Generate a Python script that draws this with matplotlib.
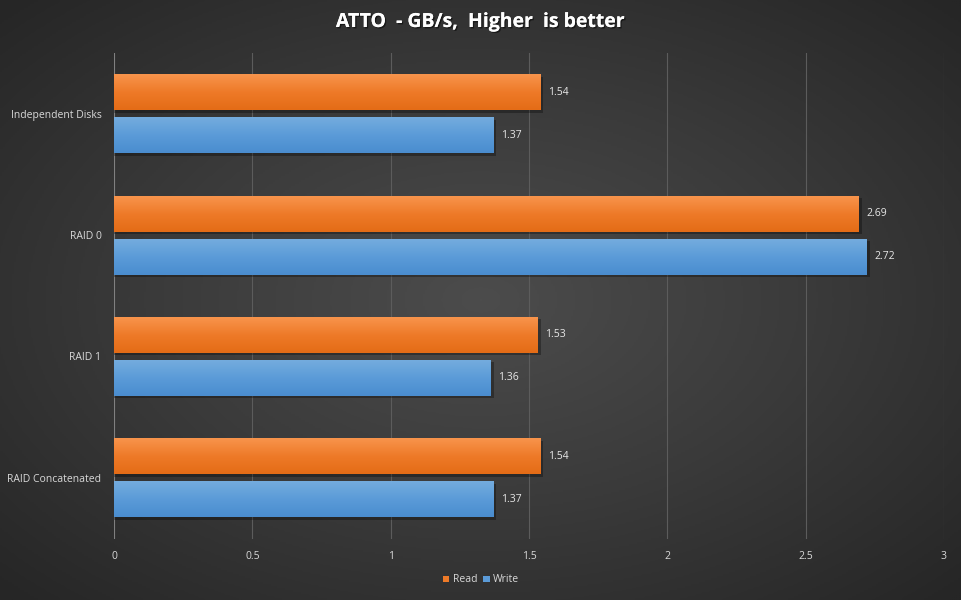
import numpy as np
import matplotlib.pyplot as plt
import matplotlib.patheffects as pe
from matplotlib.colors import LinearSegmentedColormap
from matplotlib.patches import Patch

# chart data
categories = ['Independent Disks', 'RAID 0', 'RAID 1', 'RAID Concatenated']
read_vals = [1.54, 2.69, 1.53, 1.54]
write_vals = [1.37, 2.72, 1.36, 1.37]
x_ticks = [0, 0.5, 1, 1.5, 2, 2.5, 3]
x_tick_labels = ['0', '0.5', '1', '1.5', '2', '2.5', '3']

plt.rcParams['font.family'] = ['Open Sans', 'DejaVu Sans']

fig = plt.figure(figsize=(9.62, 6.00), dpi=100)

# radial gradient background
bg = fig.add_axes([0, 0, 1, 1])
yy, xx = np.mgrid[-1:1:300j, -1:1:480j]
r = np.sqrt(xx ** 2 + yy ** 2)
bg_cmap = LinearSegmentedColormap.from_list('bg', ['#4c4c4c', '#3a3a3a', '#262626'])
bg.imshow(r, cmap=bg_cmap, aspect='auto', extent=[0, 1, 0, 1], vmin=0, vmax=1.4)
bg.axis('off')

ax = fig.add_axes([114 / 962, 1 - 538.5 / 600, 830 / 962, 485.5 / 600])
ax.set_facecolor('none')
n = len(categories)
pos = np.arange(n)
h = 0.296
off = 0.177

orange_cmap = LinearSegmentedColormap.from_list('o', ['#f8944c', '#ee7a28', '#e46c16'])
blue_cmap = LinearSegmentedColormap.from_list('b', ['#74acde', '#5b9bd8', '#4a8dcf'])


def gradient_bars(ys, vals, cmap):
    grad = np.linspace(0, 1, 64).reshape(-1, 1)
    for y, v in zip(ys, vals):
        # drop shadow
        ax.barh(y + 0.02, v + 0.012, height=h, left=0.0, color='#000000', alpha=0.3, zorder=2)
        bar = ax.barh(y, v, height=h, color='none', zorder=3)[0]
        im = ax.imshow(grad, cmap=cmap, aspect='auto', extent=[0, v, y + h / 2, y - h / 2],
                       zorder=3)
        im.set_clip_path(bar)
        ax.text(v + 0.028, y, f'{v:.2f}', color='#e8e8e8', fontsize=7.5, va='center', ha='left',
                zorder=4)


gradient_bars(pos - off, read_vals, orange_cmap)
gradient_bars(pos + off, write_vals, blue_cmap)
ax.set_xlim(0, 3)
ax.set_ylim(n - 0.5, -0.5)

for t in x_ticks:
    ax.axvline(t, color='#5c5c5c' if t > 0 else '#808080', linewidth=0.8, zorder=1)

ax.set_xticks(x_ticks)
ax.set_xticklabels(x_tick_labels)
ax.set_yticks(pos)
ax.set_yticklabels(categories)
ax.tick_params(axis='x', colors='#d9d9d9', labelsize=7.5, length=0, pad=9)
ax.tick_params(axis='y', colors='#d9d9d9', labelsize=7.5, length=0, pad=9)
for s in ax.spines.values():
    s.set_visible(False)

fig.text(0.5, 1 - 22 / 600, 'ATTO  - GB/s,  Higher  is better', color='white', fontsize=14,
         fontweight='bold', ha='center', va='center',
         path_effects=[pe.withSimplePatchShadow(offset=(1, -1), shadow_rgbFace='black', alpha=0.5),
                       pe.Normal()])

handles = [Patch(facecolor='#ee7a28', label='Read'), Patch(facecolor='#5b9bd8', label='Write')]
leg = fig.legend(handles=handles, loc='center', bbox_to_anchor=(0.5, 1 - 580 / 600), ncol=2,
                 frameon=False, fontsize=7.5, handlelength=0.6, handleheight=0.6,
                 handletextpad=0.3, columnspacing=0.6)
for t in leg.get_texts():
    t.set_color('#d9d9d9')

fig.savefig('out.png', dpi=100)
